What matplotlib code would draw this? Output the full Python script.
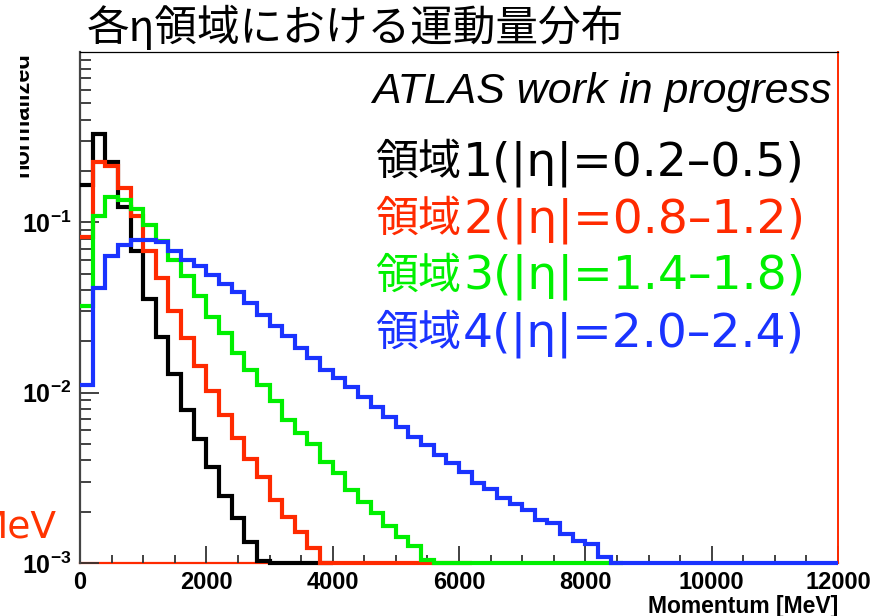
"""Momentum distributions per eta region (ATLAS work in progress)."""

import numpy as np
import matplotlib
matplotlib.use("Agg")
import matplotlib.pyplot as plt
from matplotlib.ticker import FixedLocator, MultipleLocator, NullFormatter
from matplotlib.transforms import Bbox, TransformedBbox

plt.rcParams["font.family"] = ["Liberation Sans", "DejaVu Sans"]
plt.rcParams["mathtext.fontset"] = "custom"
plt.rcParams["mathtext.bf"] = "Liberation Sans:bold"
plt.rcParams["mathtext.rm"] = "Liberation Sans"

CJK = ["Noto Sans CJK JP", "DejaVu Sans"]

# 200 MeV bins starting at 0; zeros are empty bins
bin_width = 200
region1 = [0.166, 0.330, 0.225, 0.123, 0.0675, 0.0357, 0.0211, 0.0128, 0.00787, 0.00536,
           0.00364, 0.00248, 0.00184, 0.00133, 0.00103, 0, 0, 0, 0, 0]
region2 = [0.0817, 0.2254, 0.2143, 0.1585, 0.1084, 0.0678, 0.0469, 0.0303, 0.0210, 0.01428,
           0.01018, 0.00742, 0.00541, 0.00407, 0.00318, 0.00235, 0.00187, 0.00153, 0.00122,
           0, 0, 0, 0, 0, 0, 0, 0, 0, 0, 0, 0]
region3 = [0.0321, 0.1084, 0.1403, 0.1346, 0.1191, 0.0959, 0.0773, 0.0605, 0.0481, 0.0367,
           0.0280, 0.02245, 0.01714, 0.01365, 0.01115, 0.00889, 0.00693, 0.00582, 0.00501,
           0.00394, 0.00337, 0.00269, 0.00229, 0.00196, 0.00164, 0.00143, 0.00125, 0.00104,
           0, 0, 0, 0, 0, 0, 0, 0, 0, 0, 0, 0, 0, 0, 0]
region4 = [0.01114, 0.0409, 0.0631, 0.0732, 0.0784, 0.0784, 0.0763, 0.0676, 0.0605, 0.0551,
           0.0494, 0.0432, 0.0388, 0.0337, 0.0287, 0.0246, 0.0215, 0.0183, 0.0160, 0.01365,
           0.01225, 0.01084, 0.00947, 0.00827, 0.00722, 0.00631, 0.00551, 0.00494, 0.00432,
           0.00387, 0.00343, 0.00296, 0.00272, 0.00241, 0.00222, 0.00205, 0.00179, 0.00172,
           0.00148, 0.00135, 0.00129, 0.00108, 0.001004,
           0, 0, 0, 0, 0, 0, 0, 0, 0, 0, 0, 0, 0, 0, 0, 0, 0]

region_word = "領域"
region_ranges = ["1(|η|=0.2–0.5)", "2(|η|=0.8–1.2)", "3(|η|=1.4–1.8)", "4(|η|=2.0–2.4)"]
colors = ["#000000", "#ff2a00", "#00f000", "#1a33ff"]

ymin, ymax = 1e-3, 1.0
xmin, xmax = 0, 12000

fig = plt.figure(figsize=(8.83, 6.16), dpi=100)
W, H = 883, 616
ax = fig.add_axes([80 / W, 1 - 563 / H, 758 / W, 511 / H])

# red frame line along the bottom (drawn under the histograms)
ax.axhline(ymin, color="#ff2a00", lw=1.6, zorder=1, clip_on=False)

for vals, col in zip([region1, region2, region3, region4], colors):
    vals = np.asarray(vals, dtype=float)
    edges = np.arange(len(vals) + 1) * bin_width
    shown = np.where(vals > 0, vals, ymin)
    ax.stairs(shown, edges, baseline=None, color=col, lw=3.0, zorder=3, clip_on=False)

ax.set_yscale("log")
ax.set_xlim(xmin, xmax)
ax.set_ylim(ymin, ymax)

ax.xaxis.set_major_locator(MultipleLocator(2000))
ax.xaxis.set_minor_locator(MultipleLocator(500))
ax.yaxis.set_major_locator(FixedLocator([1e-3, 1e-2, 1e-1]))
ax.set_yticklabels([r"$\mathbf{10^{-3}}$", r"$\mathbf{10^{-2}}$", r"$\mathbf{10^{-1}}$"])
minor = [m * 10.0 ** e for e in (-3, -2, -1) for m in range(2, 10)]
ax.yaxis.set_minor_locator(FixedLocator(minor))
ax.yaxis.set_minor_formatter(NullFormatter())

ax.tick_params(axis="x", which="major", direction="in", length=12, width=1.3,
               color="#333333", labelsize=17, pad=6)
ax.tick_params(axis="x", which="minor", direction="in", length=6, width=1.3, color="#333333")
ax.tick_params(axis="y", which="major", direction="in", length=14, width=1.3,
               color="#333333", labelsize=18, pad=6)
ax.tick_params(axis="y", which="minor", direction="in", length=8, width=1.3, color="#333333")
for lab in ax.get_xticklabels():
    lab.set_fontweight("bold")

ax.spines["left"].set_color("#444444")
ax.spines["left"].set_linewidth(1.6)
ax.spines["bottom"].set_visible(False)
ax.spines["top"].set_color("black")
ax.spines["top"].set_linewidth(0.9)
ax.spines["right"].set_color("#ff2a00")
ax.spines["right"].set_linewidth(1.4)

fig.text(838 / W, 1 - 606 / H, "Momentum [MeV]", ha="right", va="center",
         fontsize=16.5, fontweight="bold")

ylab = fig.text(33 / W, 1 - 52 / H, "normalized", rotation=90, ha="right", va="top",
                fontsize=17, fontweight="bold")
ylab.set_clip_box(TransformedBbox(Bbox.from_extents(20 / W, 0, 1, 1), fig.transFigure))
ylab.set_clip_on(True)

fig.text(56 / W, 1 - 537 / H, "MeV", ha="right", va="baseline", fontsize=27,
         color="#ff3300", family=["DejaVu Sans"])

fig.text(87 / W, 1 - 28 / H, "各η領域における運動量分布", ha="left", va="center",
         fontsize=30.7, family=CJK)

fig.text(372 / W, 1 - 103 / H, "ATLAS work in progress", ha="left", va="baseline",
         fontsize=30.9, style="italic")

for i, (rng, col) in enumerate(zip(region_ranges, colors)):
    base = 1 - (175 + 57 * i) / H
    fig.text(375 / W, base, region_word, ha="left", va="baseline",
             fontsize=31, color=col, family=CJK)
    fig.text(463 / W, base, rng, ha="left", va="baseline",
             fontsize=34, color=col, family=["DejaVu Sans"])

fig.savefig("out.png", dpi=100)
